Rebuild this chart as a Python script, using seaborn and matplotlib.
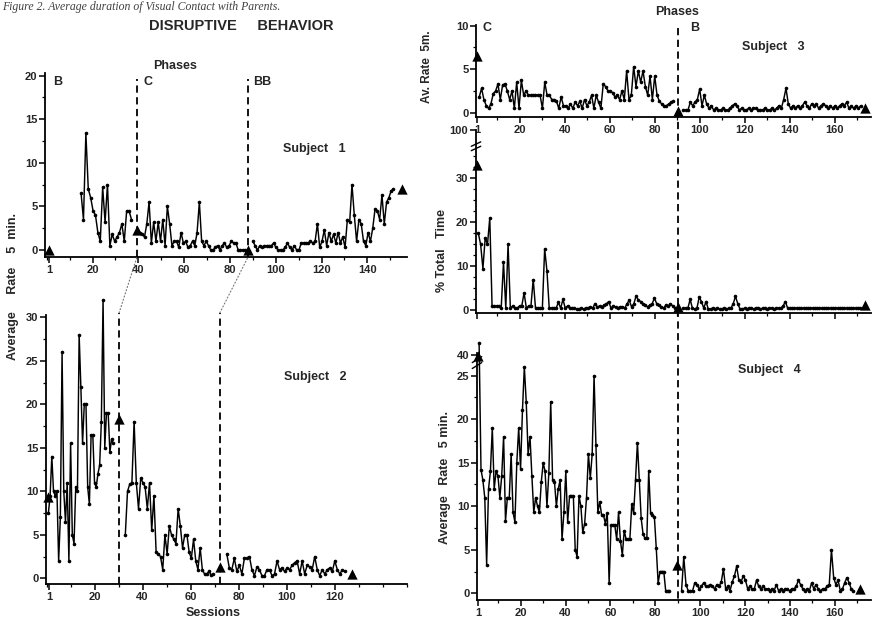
import numpy as np
import matplotlib
matplotlib.use("Agg")
import matplotlib.pyplot as plt
import seaborn as sns
from matplotlib.lines import Line2D
from matplotlib.patches import ConnectionPatch
from matplotlib.ticker import FixedLocator, MultipleLocator
from matplotlib.transforms import blended_transform_factory

# ---- data (session span, values) ----
# Subject 1 (rate / 5 min)
s1_b_span = (15, 37)
s1_b_vals = [6.5, 3.5, 13.4, 7, 6, 4.5, 4, 2, 1, 7.2, 3.2, 7.5, 0.5, 1.8, 1, 1.5, 2, 3, 1, 4.5, 4.5, 3.5]
s1_c_span = (40.7, 86.6)
s1_c_vals = [2, 1.8, 1.5, 3, 5.5, 0.8, 3.2, 1, 3.2, 1, 3.5, 0.5, 5, 3, 0.5, 1, 1, 0.3, 2, 0.8,
             1, 0.3, 0.5, 1, 0.5, 2, 5.5, 1, 0.5, 1, 0.5, 0, 0, 0.3, 0.5, 0, 0.5, 0.8, 0.3, 0.5,
             1, 0.8, 0.8, 0, 0, 0, 0]
s1_bb_span = (90, 151.4)
s1_bb_vals = [1, 0.5, 0, 0.5, 0.3, 0.5, 0.5, 0.5, 0.5, 0.8, 0.3, 0, 0, 0, 0.3, 0.8, 0.3, 0, 0.5, 0,
              0, 0.8, 0.8, 0.8, 0.8, 1, 0.8, 1, 3, 0.3, 1, 2.3, 0.5, 2, 1, 1.8, 0.8, 2, 0.8, 1.5,
              0.3, 3.5, 3.2, 7.5, 4, 1, 3.5, 3, 1, 0.5, 2, 1, 2.5, 4.7, 4.5, 3.5, 6.3, 3, 5.5, 6,
              6.8, 7]
s1_tri_x = [1, 39.4, 87.9, 155]
s1_tri_y = [0, 2.3, 0, 7]
s1_phases = [39.4, 87.9]

# Subject 2
s2_b_span = (0.75, 27.8)
s2_b_vals = [7.5, 9.5, 14, 10, 9.5, 10, 2, 7, 26, 10, 6.5, 11, 2, 15.5, 5, 4, 10.5, 10, 28, 22,
             15.5, 20, 20, 10.5, 8.5, 16.5, 16.5, 11, 10.5, 12, 13, 18, 32, 15, 19, 19, 14.5, 16, 15.5]
s2_c_span = (32.8, 69.5)
s2_c_vals = [5, 10, 10.8, 11, 18, 11, 8, 11.5, 11, 10.5, 8, 11, 5.5, 9.5, 3, 2.8, 2.5, 1, 5, 2.8,
             6, 5, 4.5, 4, 8, 6, 3.5, 5, 5, 3, 2.3, 4.5, 2, 1, 3.5, 1, 0.5, 0.5, 0.8, 0.4, 0.5]
s2_bb_span = (75.1, 124.3)
s2_bb_vals = [2.8, 1.2, 1, 2.3, 0.8, 1.5, 0.5, 2.3, 2.3, 2.5, 1, 0.3, 1.3, 1, 0.3, 0.3, 1, 1, 0.3, 0.5,
              2, 1, 1.2, 0.8, 1.2, 1, 1.5, 1.8, 2, 0.5, 2, 0.5, 1.5, 1.3, 1, 2.5, 1, 0.3, 1, 0.5,
              1, 1.2, 0.8, 2, 1, 0.5, 1, 0.8]
s2_tri_x = [0.5, 30.2, 72.2, 127.1]
s2_tri_y = [9.3, 18.3, 1.3, 0.5]
s2_phases = [30.2, 72.2]

# Subject 3 (av. rate 5 m.)
s3_c_span = (2, 88.3)
s3_c_vals = [1.8, 2.8, 1.5, 0.8, 0.5, 1, 2.2, 2.5, 3.3, 1.5, 3.2, 3.3, 2.5, 1.5, 2.5, 0.5, 3.5, 0.5,
             3.7, 2, 2.5, 2, 2, 2, 2, 2, 2, 0.5, 3.5, 2, 2, 1.5, 1.5, 1.3, 0.5, 1.8, 0.8, 0.8, 0.5,
             1, 0.5, 1.2, 0.8, 1.3, 0.5, 1.5, 0.8, 1.2, 2, 0.5, 2, 1.2, 0.5, 3.3, 3, 2.5, 2.5, 2.3,
             1.8, 2, 1.5, 2.5, 1.5, 4.8, 1.5, 2, 5.3, 3, 4.8, 3.5, 4.8, 3, 2, 4.2, 1.5, 4.2, 2, 1.3,
             1, 0.8, 0.8, 1, 1.2, 1.3]
s3_b_span = (92.7, 171.5)
s3_b_vals = [0.3, 0.3, 0.3, 1.2, 0.8, 1.2, 1.5, 2.7, 0.8, 2, 1, 0.5, 0.8, 0.3, 0.5, 0.3, 0.3, 0.5, 0.3,
             0.3, 0.5, 0.8, 1, 0.8, 0.3, 0.5, 0.3, 0.3, 0.5, 0.3, 0.5, 0.5, 0.3, 0.3, 0.3, 0.5, 0.3,
             0.3, 0.5, 0.3, 0.5, 0.8, 0.5, 1.5, 2.8, 1, 0.5, 0.8, 0.5, 0.8, 0.5, 0.8, 1.2, 0.8, 0.5,
             1, 0.8, 1, 0.5, 0.8, 1, 0.8, 0.5, 0.8, 0.5, 0.8, 0.5, 0.8, 1, 0.8, 1.2, 0.5, 0.8, 0.5,
             0.8, 0.5, 0.8]
s3_tri_x = [1, 90.5, 173.4]
s3_tri_y = [6.5, 0.2, 0.5]

# Subject 3 (% total time)
pt_c_span = (1.6, 89.0)
pt_c_vals = [17.5, 15, 9.5, 16.5, 15, 21, 1, 1, 1, 1, 0.5, 11, 0.5, 15, 0.5, 1, 0.5, 0.5, 1, 1,
             4, 0.5, 1, 1, 7, 0.5, 0.5, 0.5, 0.5, 14, 9, 0.5, 0.5, 0.5, 0.5, 1.8, 0.5, 2.5, 0.5, 1,
             0.5, 0.5, 0.5, 0.3, 0.3, 0.5, 0.3, 0.5, 0.5, 0.8, 0.5, 1.5, 0.8, 1, 0.8, 1.2, 1.5, 2,
             0.5, 1, 0.8, 0.5, 0.8, 0.8, 0.5, 1.5, 2.3, 0.8, 1.5, 3.3, 2.3, 2, 1.5, 1.2, 0.8, 1.2,
             1.5, 2.8, 1.5, 1.2, 0.8, 0.5, 1.2, 1, 1.5, 1, 0.5]
pt_b_span = (92.7, 171.3)
pt_b_vals = [0.5, 0.5, 0.5, 2.5, 0.5, 0.3, 0.5, 3, 2, 0.5, 2, 0.3, 0.3, 0.5, 0.3, 0.5, 0.3, 0.3, 0.5,
             0.3, 0.5, 0.5, 1.5, 3.2, 1.5, 0.3, 0.3, 0.5, 0.3, 0.5, 0.5, 0.3, 0.5, 0.5, 0.3, 0.5,
             0.5, 0.3, 0.5, 0.5, 0.3, 0.5, 0.5, 0.5, 1, 2, 0.5, 0.5, 0.5, 0.5, 0.5, 0.5, 0.5, 0.5,
             0.5, 0.5, 0.5, 0.5, 0.5, 0.5, 0.5, 0.5, 0.5, 0.5, 0.5, 0.5, 0.5, 0.5, 0.5, 0.5, 0.5,
             0.5, 0.5, 0.5, 0.5, 0.5, 0.5, 0.5, 0.5]
pt_tri_x = [1, 90.5, 173.4]
pt_tri_y = [33, 0.8, 1.2]

# Subject 4
s4_c_span = (1.5, 86.3)
s4_c_vals = [28.8, 14.2, 13, 11, 3.3, 12, 14, 19, 12, 14, 13.5, 11, 13.5, 18, 8.3, 11, 11, 16, 9.3,
             8.2, 15, 19, 14.3, 21, 26, 22, 16, 18, 13.5, 9.3, 11, 10, 9.3, 12.8, 15, 14, 10, 13.8,
             22, 13, 12.8, 10, 12, 13, 6.2, 9.3, 14, 8.2, 11.2, 11.2, 11.2, 5, 4.2, 11.2, 10, 7, 8,
             11, 16, 13.2, 16, 25, 17, 9.3, 10.5, 9, 9, 8, 9.2, 1.2, 7.8, 7.8, 7.8, 6.2, 9.3, 6, 4.4,
             7.2, 6.2, 6.2, 6.2, 10.2, 9.2, 13, 17.3, 13, 8.6, 6.8, 6.3, 6.3, 14.1, 9.2, 9, 8.8, 5.2,
             1.2, 2.5, 2.5, 2.5, 0.3, 0.3, 0.3]
s4_b_span = (91.7, 168.3)
s4_b_vals = [0.3, 4.2, 1, 0.3, 0.3, 0.3, 1.2, 1, 0.5, 0.8, 1.2, 0.8, 0.8, 1, 0.8, 0.5, 1, 0.8, 1.3,
             2.8, 0.5, 0.8, 0.3, 1.3, 2, 3.1, 1.5, 1.3, 2, 1.5, 0.5, 0.8, 0.5, 0.5, 1.5, 0.8, 0.5,
             0.8, 0.5, 0.5, 0.3, 0.5, 0.3, 1, 0.3, 0.5, 0.3, 0.5, 0.5, 0.3, 0.5, 0.5, 0.8, 1.5, 1,
             0.5, 0.3, 0.5, 0.3, 1.2, 0.5, 1, 0.5, 0.3, 0.5, 0.5, 0.8, 1, 5, 1.8, 1, 1.5, 0.3, 0.5,
             1.2, 1.8, 1.2, 0.5, 0.3]
s4_tri_x = [1, 89.5, 171.2]
s4_tri_y = [27.3, 3.3, 0.5]
right_phase = 90.5

sns.set_theme(style="ticks")
plt.rcParams["font.family"] = ["Liberation Sans", "DejaVu Sans"]
plt.rcParams["font.weight"] = "bold"

W, H = 872, 620
fig = plt.figure(figsize=(W / 100, H / 100), dpi=100)
fig.patch.set_facecolor("white")


def px_axes(left, top, right, bottom):
    ax = fig.add_axes([left / W, 1 - bottom / H, (right - left) / W, (bottom - top) / H])
    ax.set_facecolor("none")
    sns.despine(ax=ax)
    for sp in ["left", "bottom"]:
        ax.spines[sp].set_linewidth(1.3)
        ax.spines[sp].set_color("black")
    ax.tick_params(which="major", length=4, width=1.1, labelsize=8, pad=1.5, color="black")
    ax.tick_params(which="minor", length=2.5, width=0.9, color="black")
    return ax


def series(ax, span, vals):
    x = np.linspace(span[0], span[1], len(vals))
    sns.lineplot(x=x, y=vals, ax=ax, color="black", linewidth=1.05, marker="o", markersize=2.6,
                 markeredgewidth=0, estimator=None, sort=False, legend=False, clip_on=False)


def triangles(ax, xs, ys):
    sns.scatterplot(x=xs, y=ys, ax=ax, marker="^", s=55, color="black", linewidth=0,
                    zorder=6, clip_on=False, legend=False)


def xticks(ax, labels, show=True):
    ax.xaxis.set_major_locator(FixedLocator(labels))
    ax.xaxis.set_minor_locator(MultipleLocator(10))
    if show:
        ax.set_xticklabels([str(v) for v in labels], fontweight="bold")
    else:
        ax.set_xticklabels([])


def break_mark(ax, yb):
    y0, y1 = ax.get_ylim()
    f = (yb - y0) / (y1 - y0)
    for dy in (-0.012, 0.012):
        ax.plot([-0.012, 0.012], [f + dy - 0.012, f + dy + 0.012], transform=ax.transAxes,
                color="black", lw=1.0, clip_on=False)


# ---- Subject 1 ----
ax1 = px_axes(45, 73, 407, 257)
ax1.set_xlim(-0.75, 157.3)
ax1.set_ylim(-0.8, 20.3)
series(ax1, s1_b_span, s1_b_vals)
series(ax1, s1_c_span, s1_c_vals)
series(ax1, s1_bb_span, s1_bb_vals)
triangles(ax1, s1_tri_x, s1_tri_y)
for p in s1_phases:
    ax1.plot([p, p], [-0.8, 19.6], color="black", lw=1.3, ls=(0, (4, 2.5)))
xticks(ax1, [1, 20, 40, 60, 80, 100, 120, 140])
ax1.set_yticks([0, 5, 10, 15, 20])
ax1.set_yticklabels(["0", "5", "10", "15", "20"], fontweight="bold")
ax1.yaxis.set_minor_locator(MultipleLocator(2.5))

# ---- Subject 2 ----
ax2 = px_axes(46, 315, 407, 584)
ax2.set_xlim(-0.25, 150.2)
ax2.set_ylim(-0.65, 30.26)
series(ax2, s2_b_span, s2_b_vals)
series(ax2, s2_c_span, s2_c_vals)
series(ax2, s2_bb_span, s2_bb_vals)
triangles(ax2, s2_tri_x, s2_tri_y)
for p in s2_phases:
    ax2.plot([p, p], [-0.65, 30.5], color="black", lw=1.3, ls=(0, (4, 2.5)), clip_on=False)
xticks(ax2, [1, 20, 40, 60, 80, 100, 120])
ax2.set_yticks([0, 5, 10, 15, 20, 25, 30])
ax2.set_yticklabels(["0", "5", "10", "15", "20", "25", "30"], fontweight="bold")
ax2.yaxis.set_minor_locator(MultipleLocator(2.5))

for pa, pb in zip(s2_phases, s1_phases):
    con = ConnectionPatch(xyA=(pa, 30.5), coordsA=ax2.transData, xyB=(pb, -0.8),
                          coordsB=ax1.transData, color="0.45", lw=0.8, ls=(0, (1, 2)))
    fig.add_artist(con)

# ---- Subject 3 ----
ax3 = px_axes(476, 25, 871, 117)
ax3.set_xlim(0.56, 176.1)
ax3.set_ylim(-0.5, 10.08)
series(ax3, s3_c_span, s3_c_vals)
series(ax3, s3_b_span, s3_b_vals)
triangles(ax3, s3_tri_x, s3_tri_y)
xticks(ax3, [1, 20, 40, 60, 80, 100, 120, 140, 160])
ax3.set_yticks([0, 5, 10])
ax3.set_yticklabels(["0", "5", "10"], fontweight="bold")
ax3.yaxis.set_minor_locator(MultipleLocator(2.5))

# ---- % total time ----
ax4 = px_axes(476, 130, 871, 313)
ax4.set_xlim(0.56, 176.1)
ax4.set_ylim(-0.6, 41.0)
series(ax4, pt_c_span, pt_c_vals)
series(ax4, pt_b_span, pt_b_vals)
triangles(ax4, pt_tri_x, pt_tri_y)
xticks(ax4, [1, 20, 40, 60, 80, 100, 120, 140, 160], show=False)
ax4.set_yticks([0, 10, 20, 30, 41.0])
ax4.set_yticklabels(["0", "10", "20", "30", "100"], fontweight="bold")
ax4.yaxis.set_minor_locator(FixedLocator(np.arange(2.5, 36, 2.5)))
break_mark(ax4, 37.3)

# ---- Subject 4 ----
ax5 = px_axes(477, 353, 871, 600)
ax5.set_xlim(0.56, 176.1)
ax5.set_ylim(-0.77, 27.6)
series(ax5, s4_c_span, s4_c_vals)
series(ax5, s4_b_span, s4_b_vals)
triangles(ax5, s4_tri_x, s4_tri_y)
xticks(ax5, [1, 20, 40, 60, 80, 100, 120, 140, 160])
ax5.set_yticks([0, 5, 10, 15, 20, 25, 27.4])
ax5.set_yticklabels(["0", "5", "10", "15", "20", "25", "40"], fontweight="bold")
ax5.yaxis.set_minor_locator(FixedLocator(np.arange(2.5, 25, 2.5)))
break_mark(ax5, 26.5)

# one phase line running down through the three right panels
tr = blended_transform_factory(ax3.transData, fig.transFigure)
fig.add_artist(Line2D([right_phase, right_phase], [1 - 28 / H, 1 - 600 / H], transform=tr,
                      color="black", lw=1.3, ls=(0, (4, 2.5))))


def ftext(x, y, s, **kw):
    kw.setdefault("fontweight", "bold")
    kw.setdefault("fontsize", 9)
    fig.text(x / W, 1 - y / H, s, **kw)


ftext(2, 1, "Figure 2. Average duration of Visual Contact with Parents.", fontsize=8.5,
      fontweight="normal", fontstyle="italic", family=["Liberation Serif", "DejaVu Serif"],
      va="top", ha="left", color="0.25")
ftext(241, 26, "DISRUPTIVE     BEHAVIOR", fontsize=10.5, ha="center", va="center")
ftext(175, 66, "Phases", ha="center", va="center")
ftext(53, 82, "B", ha="left", va="center")
ftext(143, 82, "C", ha="left", va="center")
ftext(253, 82, "BB", ha="left", va="center")
ftext(314, 149, "Subject   1", ha="center", va="center")
ftext(315, 377, "Subject   2", ha="center", va="center")
ftext(13, 287, "Average     Rate    5  min.", rotation=90, ha="center", va="center")
ftext(213, 613, "Sessions", ha="center", va="center")
ftext(677, 12, "Phases", ha="center", va="center")
ftext(482, 28, "C", ha="left", va="center")
ftext(690, 28, "B", ha="left", va="center")
ftext(773, 47, "Subject   3", ha="center", va="center")
ftext(427, 67, "Av. Rate  5m.", rotation=90, ha="center", va="center", fontsize=8.5)
ftext(442, 250, "% Total   Time", rotation=90, ha="center", va="center")
ftext(769, 370, "Subject   4", ha="center", va="center")
ftext(445, 477, "Average   Rate   5 min.", rotation=90, ha="center", va="center")

fig.savefig("out.png", dpi=100, facecolor="white")
